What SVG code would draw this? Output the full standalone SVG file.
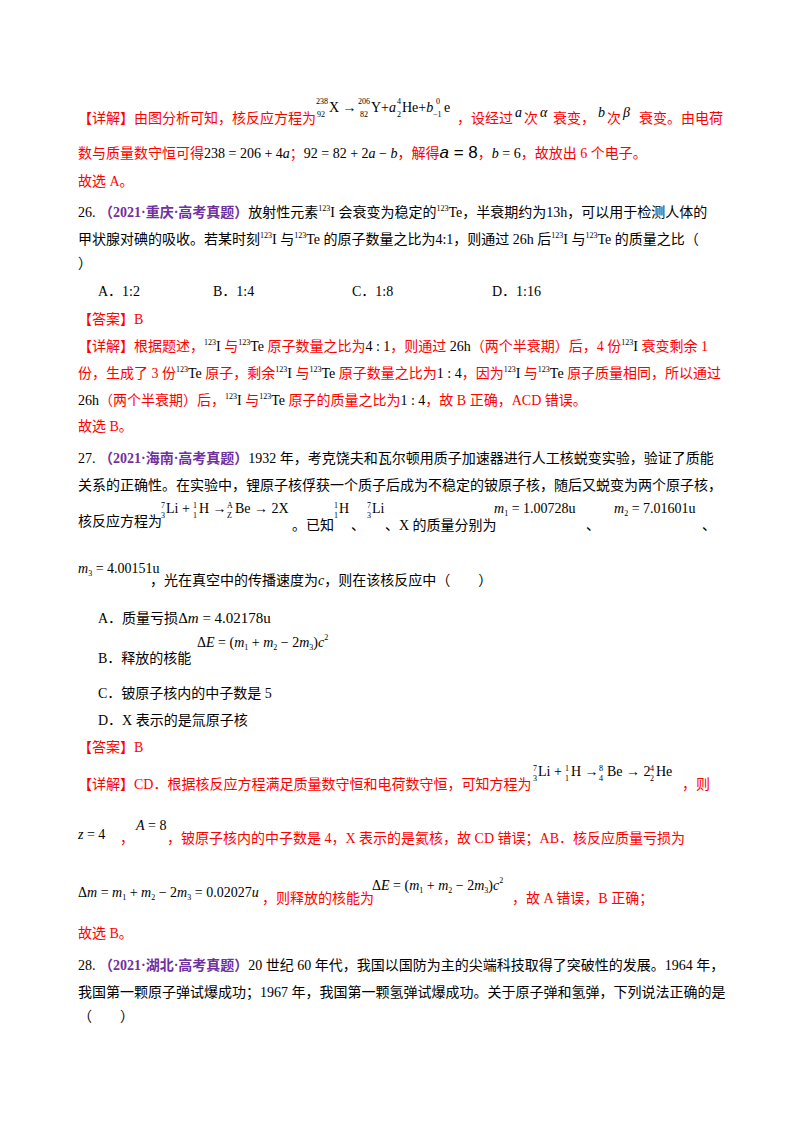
<svg xmlns="http://www.w3.org/2000/svg" width="800" height="1132" viewBox="0 0 800 1132">
<style>
text{font-family:"Liberation Serif","Noto Sans CJK SC",serif;font-size:14px;fill:#000}
.r{fill:#f00}
.p{fill:#7030a0;font-weight:bold}
.s{font-size:8px}
.i{font-style:italic}
</style>
<rect width="800" height="1132" fill="#fff"/>
<g id="q25">
<text x="78" y="123" class="r">【详解】由图分析可知，核反应方程为</text>
<text x="316" y="104" class="s">238</text><text x="317" y="117" class="s">92</text>
<text x="329" y="112">X →</text>
<text x="358" y="104" class="s">206</text><text x="360" y="117" class="s">82</text>
<text x="371" y="112">Y+<tspan class="i">a</tspan></text>
<text x="397" y="104" class="s">4</text><text x="397" y="117" class="s">2</text>
<text x="402" y="112">He+<tspan class="i">b</tspan></text>
<text x="436" y="104" class="s">0</text><text x="433" y="117" class="s">−1</text>
<text x="444" y="112">e</text>
<text x="457" y="123" class="r">，设经过</text>
<text x="515" y="117" class="i">a</text>
<text x="524" y="123" class="r">次</text>
<text x="540" y="117" class="i">α</text>
<text x="553" y="123" class="r">衰变，</text>
<text x="598" y="117" class="i">b</text>
<text x="607" y="123" class="r">次</text>
<text x="623" y="117" class="i" font-size="17">β</text>
<text x="639" y="123" class="r">衰变。由电荷</text>
<text x="78" y="158" class="r">数与质量数守恒可得<tspan fill="#000">238 = 206 + 4<tspan class="i">a</tspan></tspan>；<tspan fill="#000">92 = 82 + 2<tspan class="i">a</tspan> − <tspan class="i">b</tspan></tspan>，解得<tspan fill="#000" font-family="Liberation Sans" font-size="17"><tspan class="i">a</tspan> = 8</tspan>，<tspan fill="#000"><tspan class="i">b</tspan> = 6</tspan>，故放出 6 个电子。</text>
<text x="78" y="186" class="r">故选 A。</text>
</g>
<g id="q26">
<text x="78" y="217">26. <tspan class="p">（2021·重庆·高考真题）</tspan>放射性元素<tspan class="s" dy="-6">123</tspan><tspan dy="6">I 会衰变为稳定的</tspan><tspan class="s" dy="-6">123</tspan><tspan dy="6">Te，半衰期约为13h，可以用于检测人体的</tspan></text>
<text x="78" y="244">甲状腺对碘的吸收。若某时刻<tspan class="s" dy="-6">123</tspan><tspan dy="6">I 与</tspan><tspan class="s" dy="-6">123</tspan><tspan dy="6">Te 的原子数量之比为4:1，则通过 26h 后</tspan><tspan class="s" dy="-6">123</tspan><tspan dy="6">I 与</tspan><tspan class="s" dy="-6">123</tspan><tspan dy="6">Te 的质量之比（</tspan></text>
<text x="78" y="268">）</text>
<text x="98" y="296">A．1:2</text>
<text x="213" y="296">B．1:4</text>
<text x="352" y="296">C．1:8</text>
<text x="492" y="296">D．1:16</text>
<text x="78" y="324" class="r">【答案】B</text>
<text x="78" y="351" class="r">【详解】根据题述，<tspan class="s" dy="-6" fill="#000">123</tspan><tspan dy="6" fill="#000">I </tspan>与<tspan class="s" dy="-6" fill="#000">123</tspan><tspan dy="6" fill="#000">Te </tspan>原子数量之比为<tspan fill="#000">4 : 1</tspan>，则通过 <tspan fill="#000">26h</tspan>（两个半衰期）后，4 份<tspan class="s" dy="-6" fill="#000">123</tspan><tspan dy="6" fill="#000">I </tspan>衰变剩余 1</text>
<text x="78" y="378" class="r">份，生成了 3 份<tspan class="s" dy="-6" fill="#000">123</tspan><tspan dy="6" fill="#000">Te </tspan>原子，剩余<tspan class="s" dy="-6" fill="#000">123</tspan><tspan dy="6" fill="#000">I </tspan>与<tspan class="s" dy="-6" fill="#000">123</tspan><tspan dy="6" fill="#000">Te </tspan>原子数量之比为<tspan fill="#000">1 : 4</tspan>，因为<tspan class="s" dy="-6" fill="#000">123</tspan><tspan dy="6" fill="#000">I </tspan>与<tspan class="s" dy="-6" fill="#000">123</tspan><tspan dy="6" fill="#000">Te </tspan>原子质量相同，所以通过</text>
<text x="78" y="405" class="r"><tspan fill="#000">26h</tspan>（两个半衰期）后，<tspan class="s" dy="-6" fill="#000">123</tspan><tspan dy="6" fill="#000">I </tspan>与<tspan class="s" dy="-6" fill="#000">123</tspan><tspan dy="6" fill="#000">Te </tspan>原子的质量之比为<tspan fill="#000">1 : 4</tspan>，故 B 正确，ACD 错误。</text>
<text x="78" y="431" class="r">故选 B。</text>
</g>
<g id="q27">
<text x="78" y="463">27. <tspan class="p">（2021·海南·高考真题）</tspan>1932 年，考克饶夫和瓦尔顿用质子加速器进行人工核蜕变实验，验证了质能</text>
<text x="78" y="490">关系的正确性。在实验中，锂原子核俘获一个质子后成为不稳定的铍原子核，随后又蜕变为两个原子核，</text>
<text x="78" y="526">核反应方程为</text>
<text x="161" y="508" class="s">7</text><text x="161" y="518" class="s">3</text>
<text x="166" y="513">Li +</text>
<text x="193" y="508" class="s">1</text><text x="193" y="518" class="s">1</text>
<text x="199" y="513">H →</text>
<text x="227" y="508" class="s">A</text><text x="227" y="518" class="s">Z</text>
<text x="235" y="513">Be → 2X</text>
<text x="292" y="530">。已知</text>
<text x="334" y="508" class="s">1</text><text x="334" y="518" class="s">1</text>
<text x="339" y="513">H</text>
<text x="351" y="530">、</text>
<text x="367" y="508" class="s">7</text><text x="367" y="518" class="s">3</text>
<text x="372" y="513">Li</text>
<text x="385" y="530">、X 的质量分别为</text>
<text x="494" y="513"><tspan class="i">m</tspan><tspan class="s" dy="3">1</tspan><tspan dy="-3"> = 1.00728u</tspan></text>
<text x="586" y="530">、</text>
<text x="614" y="513"><tspan class="i">m</tspan><tspan class="s" dy="3">2</tspan><tspan dy="-3"> = 7.01601u</tspan></text>
<text x="702" y="530">、</text>
<text x="78" y="573"><tspan class="i">m</tspan><tspan class="s" dy="3">3</tspan><tspan dy="-3"> = 4.00151u</tspan></text>
<text x="150" y="585">，光在真空中的传播速度为<tspan class="i">c</tspan>，则在该核反应中（　　）</text>
<text x="98" y="623">A．质量亏损<tspan font-size="15">Δ<tspan class="i">m</tspan> = 4.02178u</tspan></text>
<text x="197" y="647" font-size="15">Δ<tspan class="i">E</tspan> = (<tspan class="i">m</tspan><tspan class="s" dy="3">1</tspan><tspan dy="-3"> + </tspan><tspan class="i">m</tspan><tspan class="s" dy="3">2</tspan><tspan dy="-3"> − 2</tspan><tspan class="i">m</tspan><tspan class="s" dy="3">3</tspan><tspan dy="-3">)</tspan><tspan class="i">c</tspan><tspan class="s" dy="-7">2</tspan></text>
<text x="98" y="663">B．释放的核能</text>
<text x="98" y="698">C．铍原子核内的中子数是 5</text>
<text x="98" y="725">D．X 表示的是氚原子核</text>
<text x="78" y="752" class="r">【答案】B</text>
<text x="78" y="789" class="r">【详解】CD．根据核反应方程满足质量数守恒和电荷数守恒，可知方程为</text>
<text x="533" y="771" class="s">7</text><text x="533" y="781" class="s">3</text>
<text x="538" y="776">Li +</text>
<text x="565" y="771" class="s">1</text><text x="565" y="781" class="s">1</text>
<text x="571" y="776">H →</text>
<text x="599" y="771" class="s">8</text><text x="599" y="781" class="s">4</text>
<text x="607" y="776">Be → 2</text>
<text x="650" y="771" class="s">4</text><text x="650" y="781" class="s">2</text>
<text x="656" y="776">He</text>
<text x="682" y="789" class="r">，则</text>
<text x="78" y="839" font-family="Liberation Sans" font-size="20"><tspan class="i">z</tspan> = 4</text>
<text x="120" y="843" class="r">，</text>
<text x="136" y="830"><tspan class="i">A</tspan> = 8</text>
<text x="167" y="843" class="r">，铍原子核内的中子数是 4，X 表示的是氦核，故 CD 错误；AB．核反应质量亏损为</text>
<text x="78" y="897" font-size="15">Δ<tspan class="i">m</tspan> = <tspan class="i">m</tspan><tspan class="s" dy="3">1</tspan><tspan dy="-3"> + </tspan><tspan class="i">m</tspan><tspan class="s" dy="3">2</tspan><tspan dy="-3"> − 2</tspan><tspan class="i">m</tspan><tspan class="s" dy="3">3</tspan><tspan dy="-3"> = 0.02027</tspan><tspan class="i">u</tspan></text>
<text x="262" y="903" class="r">，则释放的核能为</text>
<text x="372" y="890" font-size="15">Δ<tspan class="i">E</tspan> = (<tspan class="i">m</tspan><tspan class="s" dy="3">1</tspan><tspan dy="-3"> + </tspan><tspan class="i">m</tspan><tspan class="s" dy="3">2</tspan><tspan dy="-3"> − 2</tspan><tspan class="i">m</tspan><tspan class="s" dy="3">3</tspan><tspan dy="-3">)</tspan><tspan class="i">c</tspan><tspan class="s" dy="-7">2</tspan></text>
<text x="512" y="903" class="r">，故 A 错误，B 正确；</text>
<text x="78" y="938" class="r">故选 B。</text>
</g>
<g id="q28">
<text x="78" y="970">28. <tspan class="p">（2021·湖北·高考真题）</tspan>20 世纪 60 年代，我国以国防为主的尖端科技取得了突破性的发展。1964 年，</text>
<text x="78" y="997">我国第一颗原子弹试爆成功；1967 年，我国第一颗氢弹试爆成功。关于原子弹和氢弹，下列说法正确的是</text>
<text x="78" y="1021">（　　）</text>
</g>
</svg>
